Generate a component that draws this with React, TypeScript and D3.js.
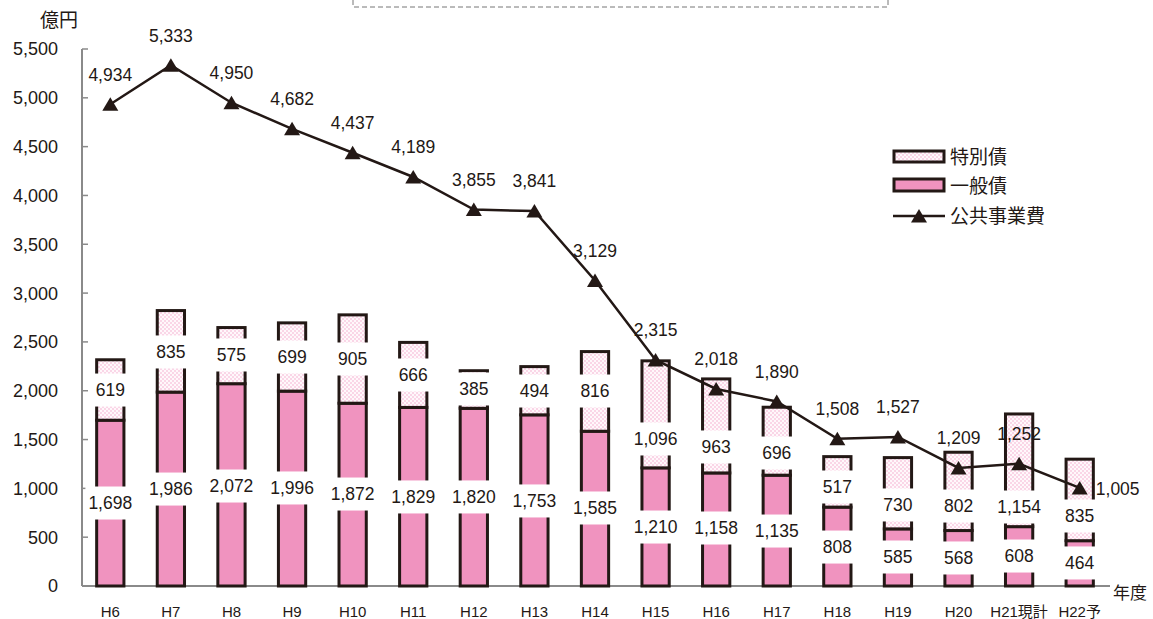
import React, { useRef, useEffect } from 'react';
import * as d3 from 'd3';

// 年度
const years = ['H6', 'H7', 'H8', 'H9', 'H10', 'H11', 'H12', 'H13', 'H14', 'H15', 'H16', 'H17', 'H18', 'H19', 'H20', 'H21現計', 'H22予'];
// 一般債 (億円)
const general = [1698, 1986, 2072, 1996, 1872, 1829, 1820, 1753, 1585, 1210, 1158, 1135, 808, 585, 568, 608, 464];
// 特別債 (億円)
const special = [619, 835, 575, 699, 905, 666, 385, 494, 816, 1096, 963, 696, 517, 730, 802, 1154, 835];
// 公共事業費 (億円)
const publicWorks = [4934, 5333, 4950, 4682, 4437, 4189, 3855, 3841, 3129, 2315, 2018, 1890, 1508, 1527, 1209, 1252, 1005];
const yTicks = [0, 500, 1000, 1500, 2000, 2500, 3000, 3500, 4000, 4500, 5000, 5500];

// where the boxed bar labels sit, in axis units (hand placed in the original)
const specialLabelAt = [2007, 2397, 2366, 2345, 2325, 2161, 2018, 1997, 1997, 1506, 1424, 1362, 1014, 830, 819, 809, 717];
const generalLabelAt = [850, 993, 1024, 1004, 942, 912, 912, 871, 799, 604, 594, 563, 399, 297, 287, 307, 236];

const W = 1153;
const H = 619;
const INK = '#231815';
const PINK = '#f093bf';
const FONT = '"Liberation Sans", "Noto Sans CJK JP", sans-serif';

const App: React.FC = () => {
  const ref = useRef<SVGSVGElement | null>(null);

  useEffect(() => {
    if (!ref.current) return;
    const svg = d3.select(ref.current);
    svg.selectAll('*').remove();

    const x = d3.scaleBand<string>().domain(years).range([80, 1110]).paddingInner(0.55).paddingOuter(0.275);
    const y = d3.scaleLinear().domain([0, 5500]).range([586, 49]);
    const cx = (i: number) => x(years[i])! + x.bandwidth() / 2;

    // dotted fill for 特別債
    const defs = svg.append('defs');
    const pat = defs.append('pattern').attr('id', 'dots').attr('patternUnits', 'userSpaceOnUse').attr('width', 4).attr('height', 4);
    pat.append('rect').attr('width', 4).attr('height', 4).attr('fill', '#fff8fb');
    pat.append('circle').attr('cx', 1).attr('cy', 1).attr('r', 0.75).attr('fill', '#f4a3cb');
    pat.append('circle').attr('cx', 3).attr('cy', 3).attr('r', 0.75).attr('fill', '#f4a3cb');

    // title box remnant at the top
    svg.append('path')
      .attr('d', 'M353,0V7H888V0')
      .attr('fill', 'none')
      .attr('stroke', '#777')
      .attr('stroke-width', 1)
      .attr('stroke-dasharray', '5,3');

    // axes
    svg.append('line').attr('x1', 82).attr('x2', 82).attr('y1', y(5500)).attr('y2', y(0)).attr('stroke', '#8a8a8a').attr('stroke-width', 2);
    svg.append('line').attr('x1', 82).attr('x2', 1110).attr('y1', y(0)).attr('y2', y(0)).attr('stroke', '#8a8a8a').attr('stroke-width', 2);
    svg.append('g').selectAll('line').data(yTicks).join('line')
      .attr('x1', 82).attr('x2', 88).attr('y1', (d) => y(d)).attr('y2', (d) => y(d))
      .attr('stroke', '#8a8a8a').attr('stroke-width', 1.5);
    svg.append('g').selectAll('text').data(yTicks).join('text')
      .attr('x', 58).attr('y', (d) => y(d)).attr('dy', '0.36em')
      .attr('text-anchor', 'end').attr('font-size', 18).attr('fill', INK)
      .text((d) => d3.format(',')(d));
    svg.append('text').attr('x', 40).attr('y', 20).attr('dy', '0.36em').attr('font-size', 19).attr('fill', INK).text('億円');

    svg.append('g').selectAll('text').data(years).join('text')
      .attr('x', (d) => x(d)! + x.bandwidth() / 2).attr('y', 612).attr('dy', '0.36em')
      .attr('text-anchor', 'middle').attr('font-size', 15).attr('fill', INK)
      .text((d) => d);
    svg.append('text').attr('x', 1113).attr('y', 593).attr('dy', '0.36em').attr('font-size', 17).attr('fill', INK).text('年度');

    // stacked bars
    const bars = svg.append('g');
    bars.selectAll('rect.gen').data(general).join('rect')
      .attr('class', 'gen')
      .attr('x', (_, i) => x(years[i])!).attr('width', x.bandwidth())
      .attr('y', (d) => y(d)).attr('height', (d) => y(0) - y(d))
      .attr('fill', PINK).attr('stroke', INK).attr('stroke-width', 3);
    bars.selectAll('rect.spe').data(special).join('rect')
      .attr('class', 'spe')
      .attr('x', (_, i) => x(years[i])!).attr('width', x.bandwidth())
      .attr('y', (d, i) => y(general[i] + d)).attr('height', (d) => y(0) - y(d))
      .attr('fill', 'url(#dots)').attr('stroke', INK).attr('stroke-width', 3);

    // boxed value labels
    const boxed = (vals: number[], at: number[]) => {
      const g = svg.append('g');
      vals.forEach((v, i) => {
        const t = g.append('text')
          .attr('x', cx(i)).attr('y', y(at[i])).attr('dy', '0.36em')
          .attr('text-anchor', 'middle').attr('font-size', 17.5).attr('fill', INK)
          .text(d3.format(',')(v));
        const w = (t.node() as SVGTextElement).getComputedTextLength();
        g.insert('rect', 'text')
          .attr('x', cx(i) - w / 2 - 3).attr('width', w + 6)
          .attr('y', y(at[i]) - 16.5).attr('height', 33)
          .attr('fill', '#fff');
      });
    };
    boxed(special, specialLabelAt);
    boxed(general, generalLabelAt);

    // 公共事業費 line
    const line = d3.line<number>().x((_, i) => cx(i)).y((d) => y(d));
    svg.append('path').datum(publicWorks).attr('d', line).attr('fill', 'none').attr('stroke', INK).attr('stroke-width', 2.5);
    const tri = 'M0,-7L8,6.5L-8,6.5Z';
    svg.append('g').selectAll('path').data(publicWorks).join('path')
      .attr('d', tri)
      .attr('transform', (d, i) => `translate(${cx(i)},${y(d)})`)
      .attr('fill', INK);
    svg.append('g').selectAll('text').data(publicWorks).join('text')
      .attr('x', (_, i) => (i === publicWorks.length - 1 ? cx(i) + 38 : cx(i)))
      .attr('y', (d, i) => (i === publicWorks.length - 1 ? y(d) + 1 : y(d) - 30))
      .attr('dy', '0.36em')
      .attr('text-anchor', 'middle').attr('font-size', 17.5).attr('fill', INK)
      .text((d) => d3.format(',')(d));

    // legend
    const lg = svg.append('g').attr('font-size', 19).attr('fill', INK);
    lg.append('rect').attr('x', 894).attr('y', 151).attr('width', 50).attr('height', 11).attr('fill', 'url(#dots)').attr('stroke', INK).attr('stroke-width', 3);
    lg.append('text').attr('x', 950).attr('y', 157).attr('dy', '0.36em').text('特別債');
    lg.append('rect').attr('x', 894).attr('y', 179).attr('width', 50).attr('height', 12).attr('fill', PINK).attr('stroke', INK).attr('stroke-width', 3);
    lg.append('text').attr('x', 950).attr('y', 186).attr('dy', '0.36em').text('一般債');
    lg.append('line').attr('x1', 893).attr('x2', 945).attr('y1', 216).attr('y2', 216).attr('stroke', INK).attr('stroke-width', 2.5);
    lg.append('path').attr('d', tri).attr('transform', 'translate(919,216)').attr('fill', INK);
    lg.append('text').attr('x', 950).attr('y', 216).attr('dy', '0.36em').text('公共事業費');
  }, []);

  return (
    <svg
      ref={ref}
      width={W}
      height={H}
      style={{ position: 'absolute', left: 0, top: 0, background: '#fff', fontFamily: FONT }}
    />
  );
};

export default App;
